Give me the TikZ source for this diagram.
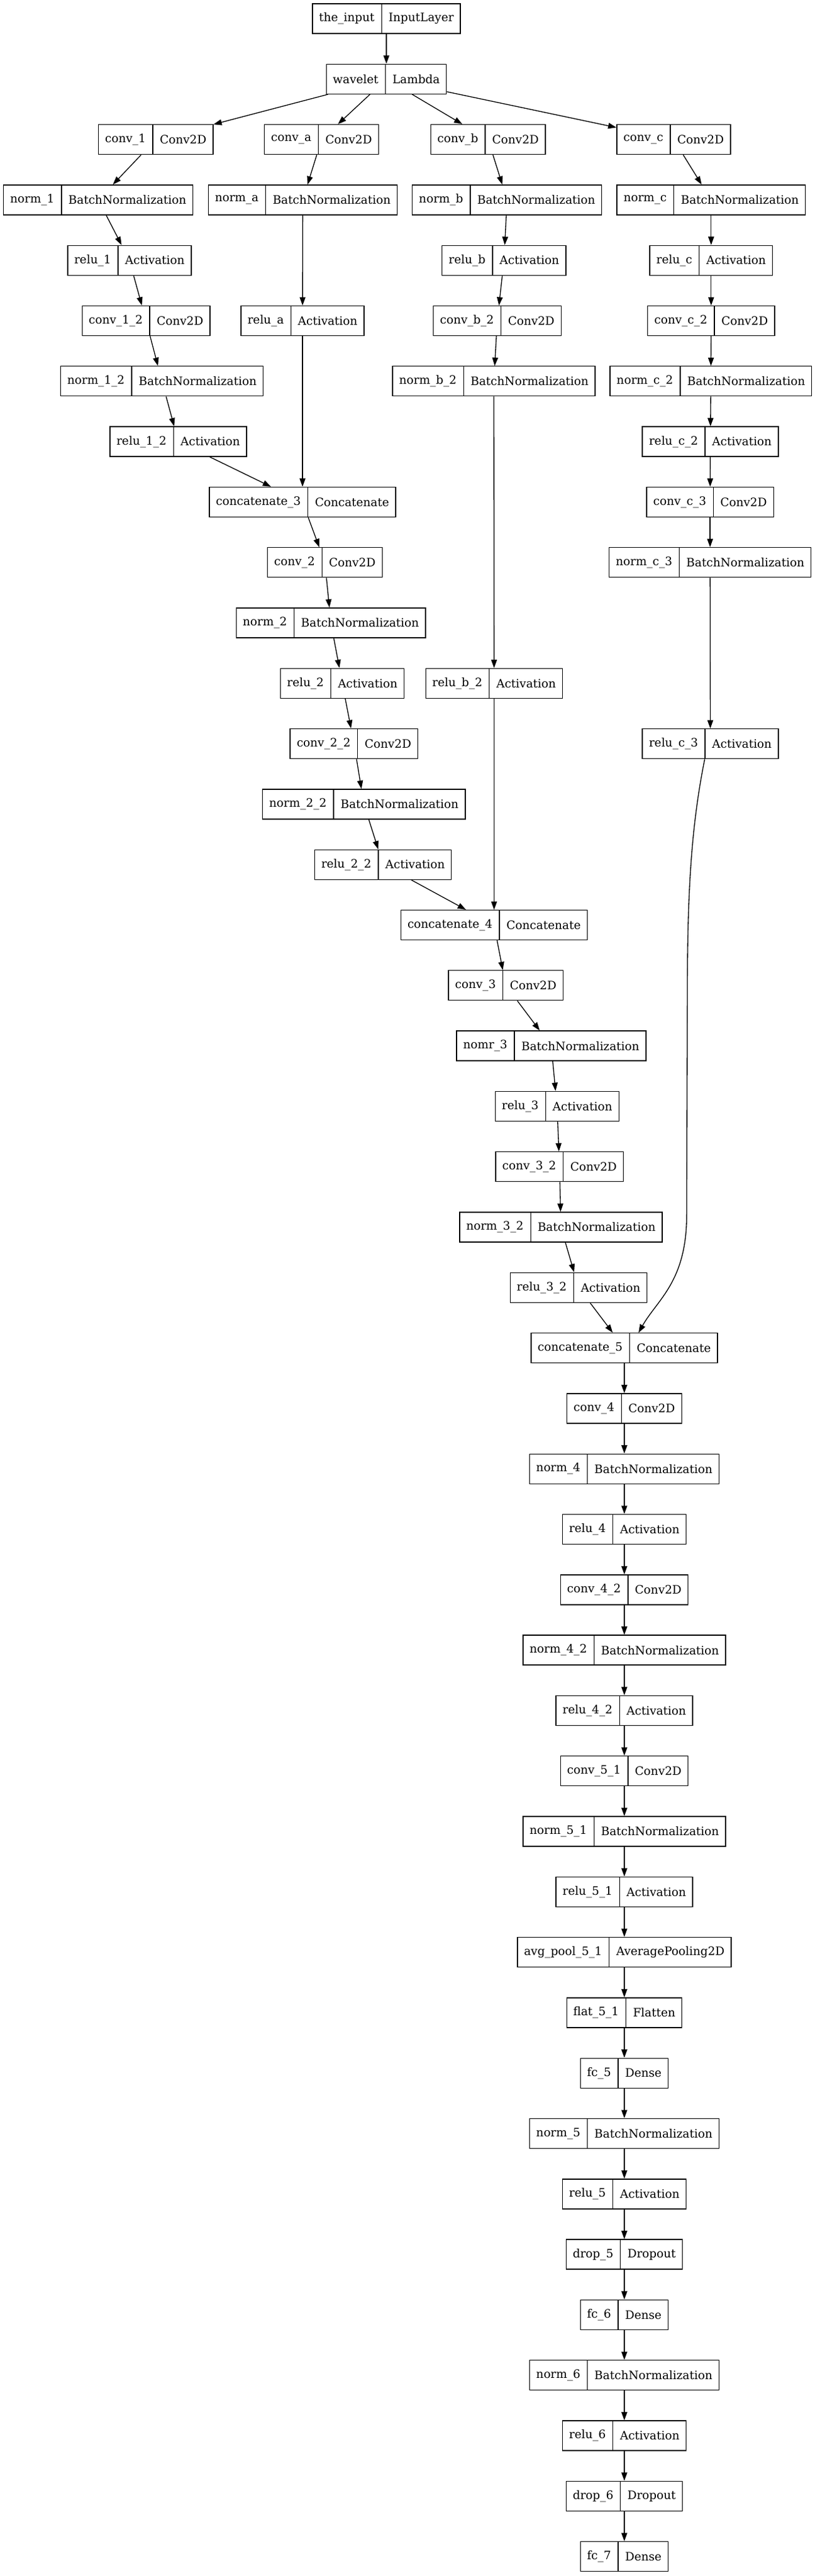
\documentclass[tikz,border=0pt]{standalone}
\usepackage{fontspec}
\setmainfont{DejaVu Serif}
\usetikzlibrary{shapes.multipart,positioning,arrows.meta,calc}
\newcommand{\rec}[2]{#1\nodepart{two}#2}

\begin{document}
\begin{tikzpicture}[x=0.75pt,y=-72.975pt,node distance=72.975pt,on grid,
  layer/.style={rectangle split,rectangle split horizontal,rectangle split parts=2,
    draw,line width=1pt,inner xsep=8pt,inner ysep=0pt,minimum height=36pt,
    font=\fontsize{14pt}{17pt}\selectfont},
  >={Triangle[length=10pt,width=7pt]}]
  \useasboundingbox (0,-0.30832) rectangle (1312,42.3227);
  % Define layers
  \node[layer] (input) at (622,0) {\rec{the\_input}{InputLayer}};
  \node[layer] (wavelet) at (622,1) {\rec{wavelet}{Lambda}};
  \node[layer] (conv1) at (250.7,2) {\rec{conv\_1}{Conv2D}};
  \node[layer] (conva) at (517.6,2) {\rec{conv\_a}{Conv2D}};
  \node[layer] (convb) at (785.8,2) {\rec{conv\_b}{Conv2D}};
  \node[layer] (convc) at (1084.5,2) {\rec{conv\_c}{Conv2D}};
  \node[layer] (norm1) at (158.2,3) {\rec{norm\_1}{BatchNormalization}};
  \node[layer] (norma) at (487.4,3) {\rec{norm\_a}{BatchNormalization}};
  \node[layer] (normb) at (816.3,3) {\rec{norm\_b}{BatchNormalization}};
  \node[layer] (normc) at (1144.8,3) {\rec{norm\_c}{BatchNormalization}};
  \node[layer] (relu1) at (208.4,4) {\rec{relu\_1}{Activation}};
  \node[layer] (relub) at (811.3,4) {\rec{relu\_b}{Activation}};
  \node[layer] (reluc) at (1144.8,4) {\rec{relu\_c}{Activation}};
  \node[layer] (conv12) at (235.1,5) {\rec{conv\_1\_2}{Conv2D}};
  \node[layer] (relua) at (487,5) {\rec{relu\_a}{Activation}};
  \node[layer] (convb2) at (800.5,5) {\rec{conv\_b\_2}{Conv2D}};
  \node[layer] (convc2) at (1144.8,5) {\rec{conv\_c\_2}{Conv2D}};
  \node[layer] (norm12) at (260.7,6) {\rec{norm\_1\_2}{BatchNormalization}};
  \node[layer] (normb2) at (795,6) {\rec{norm\_b\_2}{BatchNormalization}};
  \node[layer] (normc2) at (1144.4,6) {\rec{norm\_c\_2}{BatchNormalization}};
  \node[layer] (relu12) at (287,7) {\rec{relu\_1\_2}{Activation}};
  \node[layer] (reluc2) at (1143.5,7) {\rec{relu\_c\_2}{Activation}};
  \node[layer] (cat3) at (487,8) {\rec{concatenate\_3}{Concatenate}};
  \node[layer] (convc3) at (1143.1,8) {\rec{conv\_c\_3}{Conv2D}};
  \node[layer] (conv2) at (523,9) {\rec{conv\_2}{Conv2D}};
  \node[layer] (normc3) at (1143.1,9) {\rec{norm\_c\_3}{BatchNormalization}};
  \node[layer] (norm2) at (532.7,10) {\rec{norm\_2}{BatchNormalization}};
  \node[layer] (relu2) at (551,11) {\rec{relu\_2}{Activation}};
  \node[layer] (relub2) at (795.4,11) {\rec{relu\_b\_2}{Activation}};
  \node[layer] (conv22) at (569.9,12) {\rec{conv\_2\_2}{Conv2D}};
  \node[layer] (reluc3) at (1143.5,12) {\rec{relu\_c\_3}{Activation}};
  \node[layer] (norm22) at (585.8,13) {\rec{norm\_2\_2}{BatchNormalization}};
  \node[layer] (relu22) at (616.7,14) {\rec{relu\_2\_2}{Activation}};
  \node[layer] (cat4) at (795.4,15) {\rec{concatenate\_4}{Concatenate}};
  \node[layer] (conv3) at (814.2,16) {\rec{conv\_3}{Conv2D}};
  \node[layer] (nomr3) at (887.4,17) {\rec{nomr\_3}{BatchNormalization}};
  \node[layer] (relu3) at (896.7,18) {\rec{relu\_3}{Activation}};
  \node[layer] (conv32) at (900.8,19) {\rec{conv\_3\_2}{Conv2D}};
  \node[layer] (norm32) at (902.9,20) {\rec{norm\_3\_2}{BatchNormalization}};
  \node[layer] (relu32) at (931.4,21) {\rec{relu\_3\_2}{Activation}};
  \node[layer] (cat5) at (1005,22) {\rec{concatenate\_5}{Concatenate}};
  \node[layer] (conv4) [below=of cat5] {\rec{conv\_4}{Conv2D}};
  \node[layer] (norm4) [below=of conv4] {\rec{norm\_4}{BatchNormalization}};
  \node[layer] (relu4) [below=of norm4] {\rec{relu\_4}{Activation}};
  \node[layer] (conv42) [below=of relu4] {\rec{conv\_4\_2}{Conv2D}};
  \node[layer] (norm42) [below=of conv42] {\rec{norm\_4\_2}{BatchNormalization}};
  \node[layer] (relu42) [below=of norm42] {\rec{relu\_4\_2}{Activation}};
  \node[layer] (conv51) [below=of relu42] {\rec{conv\_5\_1}{Conv2D}};
  \node[layer] (norm51) [below=of conv51] {\rec{norm\_5\_1}{BatchNormalization}};
  \node[layer] (relu51) [below=of norm51] {\rec{relu\_5\_1}{Activation}};
  \node[layer] (pool51) [below=of relu51] {\rec{avg\_pool\_5\_1}{AveragePooling2D}};
  \node[layer] (flat51) [below=of pool51] {\rec{flat\_5\_1}{Flatten}};
  \node[layer] (fc5) [below=of flat51] {\rec{fc\_5}{Dense}};
  \node[layer] (norm5) [below=of fc5] {\rec{norm\_5}{BatchNormalization}};
  \node[layer] (relu5) [below=of norm5] {\rec{relu\_5}{Activation}};
  \node[layer] (drop5) [below=of relu5] {\rec{drop\_5}{Dropout}};
  \node[layer] (fc6) [below=of drop5] {\rec{fc\_6}{Dense}};
  \node[layer] (norm6) [below=of fc6] {\rec{norm\_6}{BatchNormalization}};
  \node[layer] (relu6) [below=of norm6] {\rec{relu\_6}{Activation}};
  \node[layer] (drop6) [below=of relu6] {\rec{drop\_6}{Dropout}};
  \node[layer] (fc7) [below=of drop6] {\rec{fc\_7}{Dense}};
  % Connections
  \path[->,line width=1pt]
    (input) edge (wavelet)
    (wavelet) edge (conv1)
    (wavelet) edge (conva)
    (wavelet) edge (convb)
    (wavelet) edge (convc)
    (conv1) edge (norm1)
    (norm1) edge (relu1)
    (relu1) edge (conv12)
    (conv12) edge (norm12)
    (norm12) edge (relu12)
    (relu12) edge (cat3)
    (conva) edge (norma)
    (norma) edge (relua)
    (relua) edge (cat3)
    (convb) edge (normb)
    (normb) edge (relub)
    (relub) edge (convb2)
    (convb2) edge (normb2)
    (normb2) edge (relub2)
    (relub2) edge (cat4)
    (convc) edge (normc)
    (normc) edge (reluc)
    (reluc) edge (convc2)
    (convc2) edge (normc2)
    (normc2) edge (reluc2)
    (reluc2) edge (convc3)
    (convc3) edge (normc3)
    (normc3) edge (reluc3)
    (cat3) edge (conv2)
    (conv2) edge (norm2)
    (norm2) edge (relu2)
    (relu2) edge (conv22)
    (conv22) edge (norm22)
    (norm22) edge (relu22)
    (relu22) edge (cat4)
    (cat4) edge (conv3)
    (conv3) edge (nomr3)
    (nomr3) edge (relu3)
    (relu3) edge (conv32)
    (conv32) edge (norm32)
    (norm32) edge (relu32)
    (relu32) edge (cat5)
    (cat5) edge (conv4)
    (conv4) edge (norm4)
    (norm4) edge (relu4)
    (relu4) edge (conv42)
    (conv42) edge (norm42)
    (norm42) edge (relu42)
    (relu42) edge (conv51)
    (conv51) edge (norm51)
    (norm51) edge (relu51)
    (relu51) edge (pool51)
    (pool51) edge (flat51)
    (flat51) edge (fc5)
    (fc5) edge (norm5)
    (norm5) edge (relu5)
    (relu5) edge (drop5)
    (drop5) edge (fc6)
    (fc6) edge (norm6)
    (norm6) edge (relu6)
    (relu6) edge (drop6)
    (drop6) edge (fc7);
  \draw[->,line width=1pt] ($(reluc3.south)+(-9,0)$) .. controls (1112,13.4) and (1107,14.5) .. (1106.5,16)
    -- (1105.4,19.8) .. controls (1105.4,20.9) and (1058,21.2) .. ($(cat5.north)+(23,0)$);
\end{tikzpicture}
\end{document}
